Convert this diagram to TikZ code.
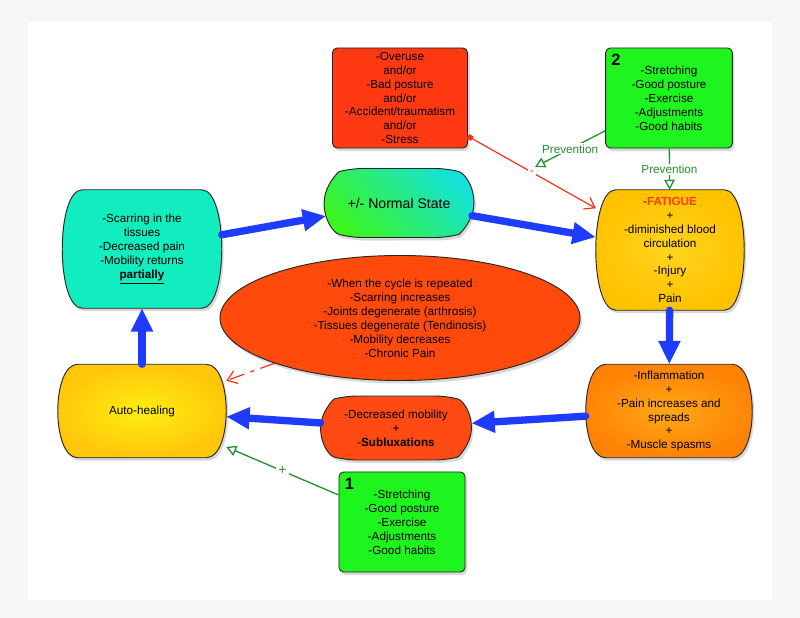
\documentclass[tikz,border=0pt]{standalone}
\usepackage{fontspec}
\setmainfont{Liberation Sans}
\usetikzlibrary{arrows.meta,shapes.misc,shapes.geometric,shadows,backgrounds}

\definecolor{riskred}{HTML}{FF3A12}
\definecolor{prevfill}{HTML}{1EF51E}
\definecolor{prevgreen}{HTML}{23902D}
\definecolor{scarcyan}{HTML}{12EDC0}
\definecolor{normgreen}{HTML}{3CF51E}
\definecolor{normcyan}{HTML}{14E2D8}
\definecolor{fatin}{HTML}{FFD41E}
\definecolor{fatout}{HTML}{FFC200}
\definecolor{healin}{HTML}{FFEE10}
\definecolor{healout}{HTML}{FFC60A}
\definecolor{inflin}{HTML}{FFA816}
\definecolor{inflout}{HTML}{FF8205}
\definecolor{decred}{HTML}{FF4A14}
\definecolor{ellred}{HTML}{FF4A0C}
\definecolor{cycblue}{HTML}{1E3CFF}
\definecolor{riskline}{HTML}{FF2A14}
\definecolor{fatred}{HTML}{FF3C14}

% outline with bulging sides behind a plain node
\newcommand{\blobshape}[2]{%
  \path[#2, draw=black!85, line width=0.8pt, shad]
    ([xshift=0.6cm]#1.north west) -- ([xshift=-0.6cm]#1.north east)
    .. controls ([xshift=0.2cm]#1.north east) and ([xshift=0.2cm]#1.south east) .. ([xshift=-0.6cm]#1.south east)
    -- ([xshift=0.6cm]#1.south west)
    .. controls ([xshift=-0.2cm]#1.south west) and ([xshift=-0.2cm]#1.north west) .. ([xshift=0.6cm]#1.north west)
    -- cycle;}

\begin{document}
\begin{tikzpicture}[x=0.03cm, y=-0.03cm,
    font=\fontsize{10}{11.9}\selectfont,
    every node/.style={align=center},
    shad/.style={drop shadow={shadow xshift=0.6mm, shadow yshift=-0.9mm, opacity=0.3}},
    box/.style={rectangle, rounded corners=4pt, draw=black!85, line width=0.8pt, inner sep=1pt, shad},
    core/.style={rectangle, inner sep=1pt},
    pill/.style={rounded rectangle, rounded rectangle arc length=150, rounded corners=10pt, draw=black!85, line width=0.8pt, inner sep=1pt, shad},
    bluearrow/.style={draw=cycblue, line width=0.22cm, line cap=round, -{Triangle[length=0.7cm, width=0.62cm]}},
    prevline/.style={draw=prevgreen, line width=1.1pt, -{Triangle[open, length=0.3cm, width=0.32cm]}},
    riskarrow/.style={draw=riskline, line width=1pt, -{Straight Barb[length=0.28cm, width=0.4cm]}},
    lbl/.style={fill=white, inner sep=2pt},
]
    \useasboundingbox (0,0) rectangle (800,618);

    %causes and prevention
    \node (risk) [box, fill=riskred, minimum width=4.05cm, minimum height=3cm] at (400,98)
        {-Overuse\\and/or\\-Bad posture\\and/or\\-Accident/traumatism\\and/or\\-Stress};
    \node (prev2) [box, fill=prevfill, minimum width=3.8cm, minimum height=3cm] at (669,98)
        {-Stretching\\-Good posture\\-Exercise\\-Adjustments\\-Good habits};
    \node (num2) [anchor=north west, inner sep=0pt, font=\fontsize{14}{14}\selectfont\bfseries] at ([shift={(6,6)}]prev2.north west) {2};

    %the cycle
    \node (scar) [core, minimum width=4.77cm, minimum height=3.54cm] at (142,249)
        {-Scarring in the\\tissues\\-Decreased pain\\-Mobility returns\\\underline{\textbf{partially}}};
    \node (normal) [pill, top color=normcyan, bottom color=normgreen, shading angle=-45, minimum width=4.56cm, minimum height=2.07cm, font=\fontsize{12}{14}\selectfont] at (399,203)
        {+/- Normal State};
    \node (fatigue) [core, minimum width=4.44cm, minimum height=3.6cm] at (670,250)
        {-{\color{fatred}\textbf{FATIGUE}}\\+\\-diminished blood\\circulation\\+\\-Injury\\+\\Pain};
    \node (inflam) [core, minimum width=4.98cm, minimum height=2.79cm] at (669,411)
        {-Inflammation\\+\\-Pain increases and\\spreads\\+\\-Muscle spasms};
    \node (decr) [pill, fill=decred, minimum width=4.59cm, minimum height=1.92cm] at (396,428)
        {-Decreased mobility\\+\\-\textbf{Subluxations}};
    \node (heal) [core, minimum width=5.04cm, minimum height=2.79cm] at (142,411)
        {Auto-healing};
    \node (chronic) [ellipse, draw=black!85, line width=0.8pt, fill=ellred, minimum width=10.8cm, minimum height=3.75cm, inner sep=1pt, shad] at (400,318)
        {-When the cycle is repeated\\-Scarring increases\\-Joints degenerate (arthrosis)\\-Tissues degenerate (Tendinosis)\\-Mobility decreases\\-Chronic Pain};

    \node (prev1) [box, fill=prevfill, minimum width=3.78cm, minimum height=3cm] at (402,522)
        {-Stretching\\-Good posture\\-Exercise\\-Adjustments\\-Good habits};
    \node (num1) [anchor=north west, inner sep=0pt, font=\fontsize{14}{14}\selectfont\bfseries] at ([shift={(6,6)}]prev1.north west) {1};

    \begin{scope}[on background layer]
        %background
        \fill[gray!7] (0,0) rectangle (800,618);
        \fill[white] (28,22) rectangle (772,600);
        \blobshape{scar}{fill=scarcyan}
        \blobshape{fatigue}{inner color=fatin, outer color=fatout}
        \blobshape{inflam}{inner color=inflin, outer color=inflout}
        \blobshape{heal}{inner color=healin, outer color=healout}
    \end{scope}

    \coordinate (hit) at (535,167);

    %arrows
    \draw[bluearrow] (scar) -- (normal);
    \draw[bluearrow] (normal) -- (fatigue);
    \draw[bluearrow] (fatigue) -- (inflam);
    \draw[bluearrow] (inflam) -- (decr);
    \draw[bluearrow] (decr) -- (heal);
    \draw[bluearrow] (heal) -- (scar);

    \draw[riskarrow, {Square[length=0.15cm, width=0.15cm]}-{Straight Barb[length=0.28cm, width=0.4cm]}] (risk) -- node[lbl, text=riskline] {-} (fatigue);
    \draw[riskarrow, dash pattern=on 0.45cm off 0.2cm on 0.12cm off 0.2cm] (chronic) -- (heal);
    \draw[prevline] (prev2) -- node[lbl, inner sep=1pt, text=prevgreen] {Prevention} (hit);
    \draw[prevline] (prev2) -- node[lbl, inner sep=1pt, text=prevgreen] {Prevention} (fatigue);
    \draw[prevline] (prev1) -- node[lbl, text=prevgreen, font=\fontsize{12}{12}\selectfont] {+} (heal);
\end{tikzpicture}
\end{document}
